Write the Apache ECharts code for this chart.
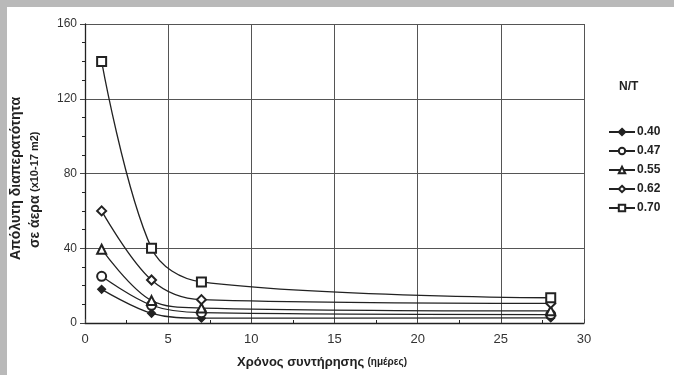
<!DOCTYPE html>
<html><head><meta charset="utf-8">
<script src="https://cdn.jsdelivr.net/npm/echarts@6/dist/echarts.min.js"></script>
<style>
html,body{margin:0;padding:0;background:#b9b9b9;}
#wrap{position:relative;width:674px;height:375px;background:#b9b9b9;overflow:hidden;}
#paper{position:absolute;left:7px;top:7px;width:667px;height:368px;background:#fff;}
#chart{position:absolute;left:0;top:0;width:674px;height:375px;}
</style></head>
<body>
<div id="wrap"><div id="paper"></div><div id="chart"></div></div>
<script>
const days = [1, 4, 7, 28];
const seriesNames = ['0.40', '0.47', '0.55', '0.62', '0.70'];
const v040 = [18, 5.2, 2.6, 2.7];
const v047 = [25, 9.5, 5.5, 4.5];
const v055 = [39.5, 12, 8, 6.5];
const v062 = [60, 23, 12.5, 10.5];
const v070 = [140, 40, 22, 13.5];
const yTicks = [0, 40, 80, 120, 160];
const xTicks = [0, 5, 10, 15, 20, 25, 30];

const values = [v040, v047, v055, v062, v070];
const symbols = ['diamond', 'emptyCircle', 'emptyTriangle', 'emptyDiamond', 'emptyRect'];
const sizes = [8, 9, 9, 9, 9];

const chart = echarts.init(document.getElementById('chart'), null, {renderer: 'canvas'});
const font = 'Liberation Sans, Arial, sans-serif';
chart.setOption({
  backgroundColor: 'transparent',
  animation: false,
  grid: {left: 85, top: 24, right: 90, bottom: 52},
  graphic: [
    {type: 'text', left: 619, top: 81, style: {text: 'N/T', font: 'bold 12px ' + font, fill: '#222'}},
    {type: 'text', rotation: Math.PI/2, x: 9, y: 260,
      style: {text: 'Απόλυτη διαπερατότητα', font: 'bold 14px ' + font, fill: '#222'}},
    {type: 'text', rotation: Math.PI/2, x: 28, y: 248,
      style: {rich: {a: {font: 'bold 14px ' + font, fill: '#222'}, b: {font: 'bold 11px ' + font, fill: '#222'}},
        text: '{a|σε άερα} {b|(x10-17 m2)}'}},
    {type: 'text', x: 237, y: 356,
      style: {rich: {a: {font: 'bold 13px ' + font, fill: '#222'}, b: {font: 'bold 10px ' + font, fill: '#222'}},
        text: '{a|Χρόνος συντήρησης} {b|(ημέρες)}'}}
  ],
  legend: {
    orient: 'vertical', left: 603, top: 121, itemWidth: 26, itemHeight: 8, itemGap: 7,
    data: seriesNames,
    textStyle: {fontFamily: font, fontWeight: 'bold', fontSize: 12, color: '#222', padding: [0,0,0,-3]}
  },
  xAxis: {
    type: 'value', min: 0, max: 30, interval: 5,
    axisLine: {show: true, lineStyle: {color: '#222', width: 1.3}},
    axisTick: {show: true, length: 4, inside: true, lineStyle: {color: '#444'}},
    minorTick: {show: true, splitNumber: 2, length: 3},
    axisLabel: {color: '#333', fontSize: 13, fontFamily: font, margin: 10,
      formatter: v => xTicks.includes(v) ? String(v) : ''},
    splitLine: {show: true, lineStyle: {color: '#555', width: 1}}
  },
  yAxis: {
    type: 'value', min: 0, max: 160, interval: 40,
    axisLine: {show: true, lineStyle: {color: '#222', width: 1.3}},
    axisTick: {show: true, length: 5, lineStyle: {color: '#444'}},
    minorTick: {show: true, splitNumber: 4, length: 3},
    axisLabel: {color: '#333', fontSize: 12, fontFamily: font, margin: 8,
      formatter: v => yTicks.includes(v) ? String(v) : ''},
    splitLine: {show: true, lineStyle: {color: '#555', width: 1}}
  },
  series: seriesNames.map((n, i) => ({
    name: n, type: 'line', smooth: 0.35,
    data: days.map((d, j) => [d, values[i][j]]),
    symbol: symbols[i], symbolSize: sizes[i],
    lineStyle: {color: '#222', width: 1.3},
    itemStyle: {color: '#222', borderColor: '#222', borderWidth: 1.2},
    z: 5 + i
  }))
});
</script>
</body></html>
